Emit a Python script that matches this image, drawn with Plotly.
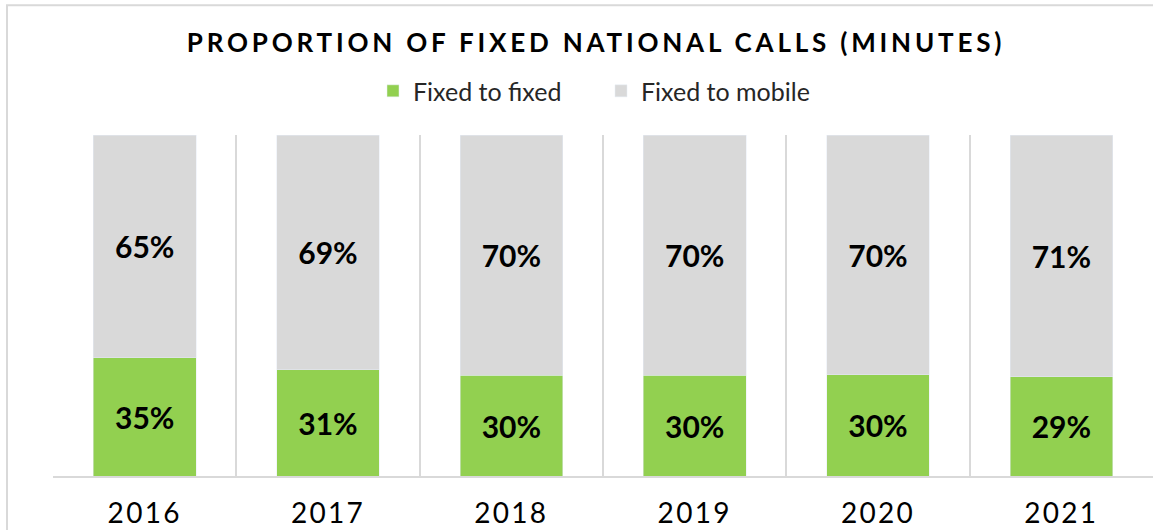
import plotly.graph_objects as go

years = ["2016", "2017", "2018", "2019", "2020", "2021"]
fixed_to_fixed = [34.7, 31.1, 29.6, 29.6, 29.7, 29.1]
fixed_to_mobile = [65.3, 68.9, 70.4, 70.4, 70.3, 70.9]

FONT = "Lato"
GREEN = "#92D050"
GREY = "#D9D9D9"

label_font = dict(family=FONT, size=30, color="black", weight="bold")

fig = go.Figure()
fig.add_trace(go.Bar(
    name="Fixed to fixed", x=years, y=fixed_to_fixed, marker_color=GREEN,
    texttemplate="%{y:.0f}%", textposition="inside", insidetextanchor="middle",
    textfont=label_font, textangle=0,
))
fig.add_trace(go.Bar(
    name="Fixed to mobile", x=years, y=fixed_to_mobile, marker_color=GREY,
    texttemplate="%{y:.0f}%", textposition="inside", insidetextanchor="middle",
    textfont=label_font, textangle=0,
))

# plot area in page pixels: x 53..1153, y 135..476.5
W, H = 1153, 530
l, t, b = 53, 135, 53.5
pw = W - l
ph = H - t - b

fig.update_layout(
    width=W, height=H,
    barmode="stack", bargap=0.44,
    margin=dict(l=l, r=0, t=t, b=b, pad=0, autoexpand=False),
    paper_bgcolor="white", plot_bgcolor="white",
    title=dict(
        text="<b>PROPORTION OF FIXED NATIONAL CALLS (MINUTES)</b>",
        x=(596 - l) / pw, xref="paper", xanchor="center",
        y=1 - 43 / H, yref="container", yanchor="middle",
        font=dict(family=FONT, size=26, color="black"),
    ),
    legend=dict(
        orientation="h", x=(601 - l) / pw, xanchor="center",
        y=1 + (t - 91) / ph, yanchor="middle",
        font=dict(family=FONT, size=25, color="#262626"),
        traceorder="normal", entrywidth=183, entrywidthmode="pixels",
    ),
    showlegend=True,
)
fig.update_xaxes(
    type="category", tickson="boundaries", showgrid=True,
    gridcolor=GREY, gridwidth=2,
    showline=True, linecolor=GREY, linewidth=2,
    ticks="", tickfont=dict(family=FONT, size=28, color="black"),
    ticklabelstandoff=11, automargin=False,
)
fig.update_yaxes(range=[0, 100], visible=False, showgrid=False, automargin=False)

# outer chart border (extends past the cropped right/bottom edges)
fig.add_shape(
    type="rect", xref="paper", yref="paper",
    x0=(7 - l) / pw, x1=1.2, y0=-0.5, y1=1 + (t - 5) / ph,
    line=dict(color=GREY, width=2), fillcolor="rgba(0,0,0,0)", layer="below",
)

post = (
    "document.body.style.margin='0';"
    "document.querySelectorAll('.gtitle').forEach(function(e){e.style.letterSpacing='3.8px';});"
    "document.querySelectorAll('.xtick text').forEach(function(e){e.style.letterSpacing='2.3px';});"
)

fig.write_html("out.html", post_script=post, config={"displayModeBar": False})
